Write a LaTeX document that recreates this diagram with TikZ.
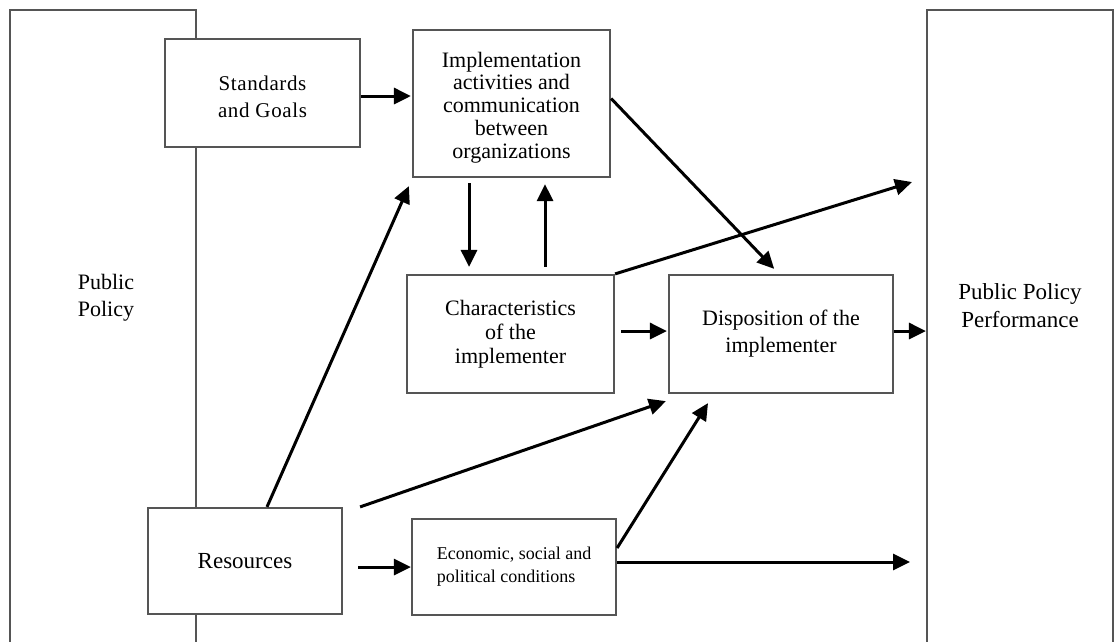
\documentclass[tikz,border=0pt]{standalone}
\usepackage{fontspec}
\setmainfont{Liberation Serif}
\usetikzlibrary{arrows.meta}
\definecolor{boxgray}{RGB}{85,85,85}
\begin{document}
\begin{tikzpicture}[x=1pt,y=-1pt,
  big/.style={draw=boxgray, line width=2.2pt, fill=white, rectangle, inner sep=0pt},
  box/.style={draw=boxgray, line width=2.2pt, fill=white, rectangle, inner sep=0pt, align=center},
  lbl/.style={align=center, inner sep=0pt},
  arr/.style={line width=3pt, -{Triangle[length=17pt,width=16pt]}}]
\useasboundingbox (0,0) rectangle (1115,641);
% outer columns
\node[big, minimum width=186pt, minimum height=700pt] (pp) at (103,360) {};
\node[big, minimum width=186pt, minimum height=700pt] (perf) at (1020,360) {};
\node[lbl, font=\fontsize{22}{27}\selectfont] (pptext) at (106,298) {Public\\Policy};
\node[lbl, font=\fontsize{23}{28}\selectfont] (perftext) at (1020,306) {Public Policy\\Performance};
% inner boxes
\node[box, minimum width=195pt, minimum height=108pt, font=\fontsize{21}{27}\selectfont\addfontfeature{LetterSpace=3}] (sg) at (262.5,93) {\rule{0pt}{23pt}Standards\\and Goals};
\node[box, minimum width=197pt, minimum height=147pt, font=\fontsize{22}{22.7}\selectfont] (impl) at (511.5,103.5) {\rule{0pt}{23pt}Implementation\\activities and\\communication\\between\\organizations};
\node[box, minimum width=207pt, minimum height=118pt, font=\fontsize{22}{24}\selectfont] (ch) at (510.5,334) {Characteristics\\of the\\implementer};
\node[box, minimum width=224pt, minimum height=118pt, font=\fontsize{22}{27}\selectfont] (disp) at (781,334) {Disposition of the\\implementer};
\node[box, minimum width=194pt, minimum height=106pt, font=\fontsize{23}{27}\selectfont] (res) at (245,561) {Resources};
\node[box, minimum width=204pt, minimum height=96pt, align=left, font=\fontsize{18}{23}\selectfont] (econ) at (514,567) {Economic, social and\\political conditions};
% free ends
\coordinate (e1) at (912,182);
\coordinate (e2) at (910,562);
% connectors
\draw[arr] ([yshift=-3pt]sg.east) -- ([yshift=-3pt,xshift=-1pt]impl.west |- sg.east);
\draw[arr, shorten <=5pt, shorten >=7pt] ([xshift=-42.5pt]impl.south) -- ([xshift=-41.5pt]ch.north);
\draw[arr, shorten <=7pt, shorten >=6pt] ([xshift=34.5pt]ch.north) -- ([xshift=33.5pt]impl.south);
\draw[arr, shorten >=7pt] ([yshift=5pt]impl.east) -- ([xshift=-2pt]disp.north);
\draw[arr] (ch.north east) -- (e1);
\draw[arr, shorten <=6pt, shorten >=1pt] ([yshift=3pt]ch.east) -- ([yshift=3pt]disp.west);
\draw[arr] ([yshift=3pt]disp.east) -- ([yshift=3pt]perf.west |- disp.east);
\draw[arr] ([xshift=22pt]res.north) -- ([xshift=-3pt,yshift=-8pt]impl.south west);
\draw[arr] ([xshift=17pt]res.north east) -- ([xshift=-2pt,yshift=-7pt]disp.south west);
\draw[arr, shorten <=15pt] (res.east |- econ.west) -- (econ.west);
\draw[arr] ([yshift=19pt]econ.east) -- ([xshift=-73pt,yshift=-9pt]disp.south);
\draw[arr] ([yshift=5pt]econ.east) -- (e2);
\end{tikzpicture}
\end{document}
